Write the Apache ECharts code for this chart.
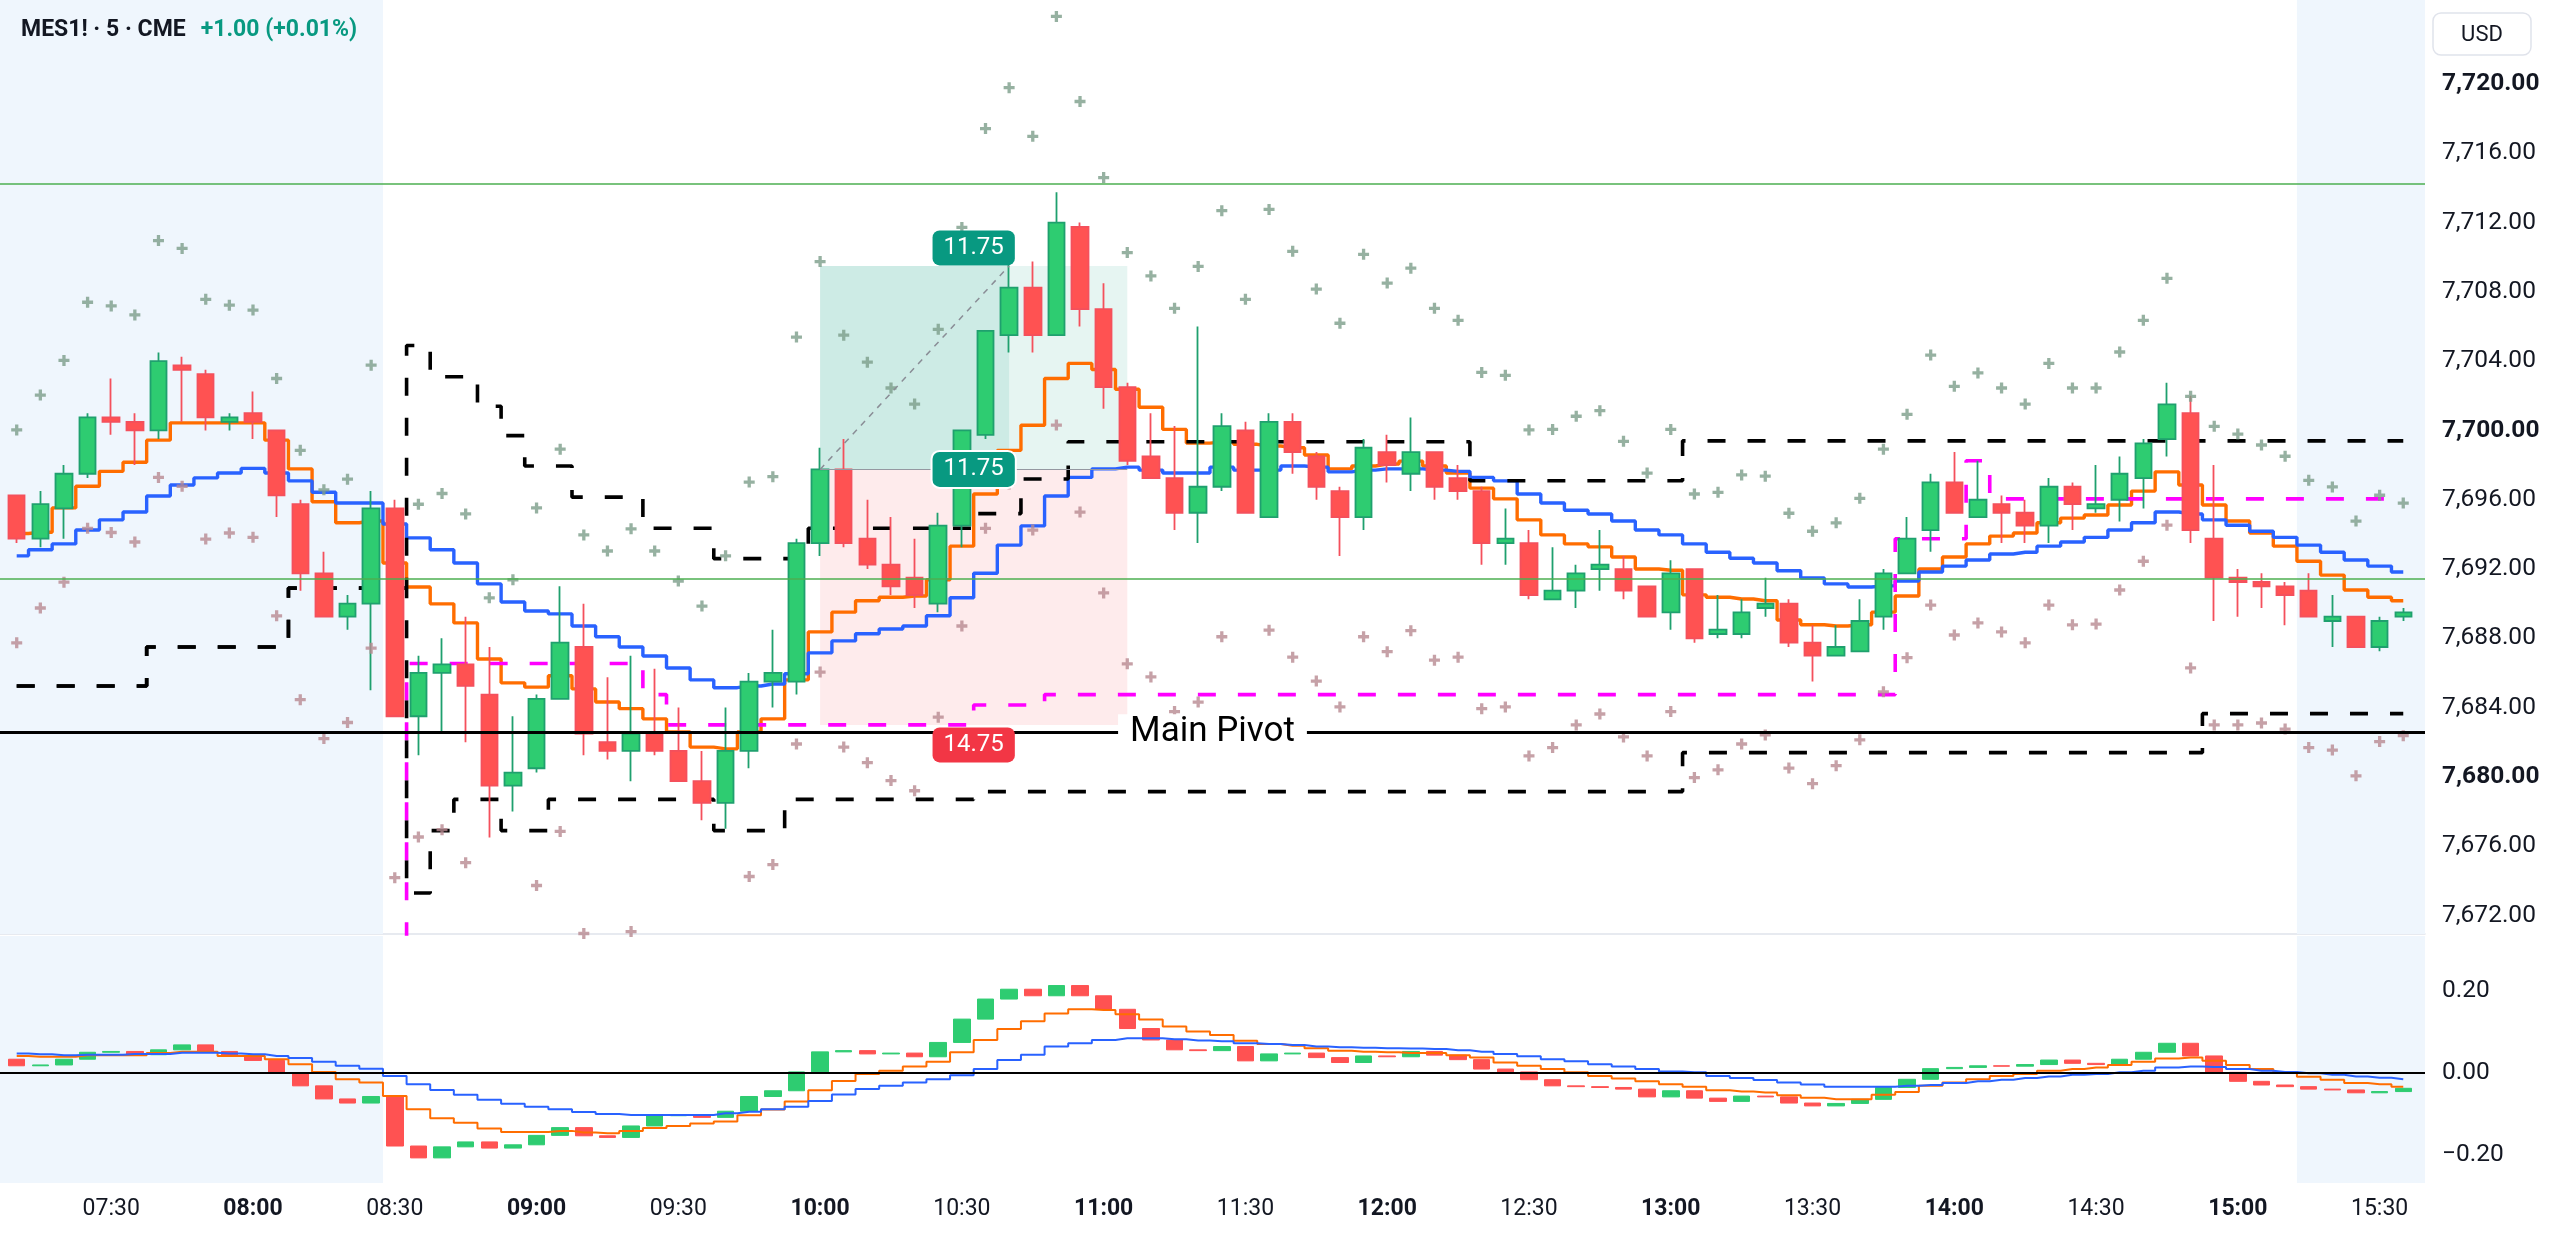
<!DOCTYPE html>
<html><head><meta charset="utf-8">
<script src="https://cdn.jsdelivr.net/npm/echarts@6/dist/echarts.min.js"></script>
<style>html,body{margin:0;padding:0;background:#fff;}#c{width:2560px;height:1253px;}</style>
</head><body><div id="c"></div>
<script>
// ---------- DATA ----------
const opens  = [7696.25,7693.75,7695.5,7697.5,7700.75,7700.5,7700.0,7703.75,7703.25,7700.5,7701.0,7700.0,7695.75,7691.75,7689.25,7690.0,7695.5,7683.5,7686.0,7686.5,7684.75,7679.5,7680.5,7684.5,7687.5,7682.0,7681.5,7682.5,7681.5,7679.75,7678.5,7681.5,7685.5,7685.5,7693.5,7697.75,7693.75,7692.25,7691.5,7690.0,7694.5,7699.75,7705.5,7708.25,7705.5,7711.75,7707.0,7702.5,7698.5,7697.25,7695.25,7696.75,7700.0,7695.0,7700.5,7698.5,7696.5,7695.0,7698.75,7697.5,7698.75,7697.25,7696.5,7693.5,7693.5,7690.25,7690.75,7692.0,7692.0,7691.0,7689.5,7692.0,7688.25,7688.25,7689.75,7690.0,7687.75,7687.0,7687.25,7689.25,7691.75,7694.25,7697.0,7695.0,7695.75,7695.25,7694.5,7696.75,7695.5,7696.0,7697.25,7699.5,7701.0,7693.75,7691.5,7691.25,7691.0,7690.75,7689.0,7689.25,7687.5,7689.25];
const closes = [7693.75,7695.75,7697.5,7700.75,7700.5,7700.0,7704.0,7703.5,7700.75,7700.75,7700.5,7696.25,7691.75,7689.25,7690.0,7695.5,7683.5,7686.0,7686.5,7685.25,7679.5,7680.25,7684.5,7687.75,7682.5,7681.5,7682.5,7681.5,7679.75,7678.5,7681.5,7685.5,7686.0,7693.5,7697.75,7693.5,7692.25,7691.0,7690.5,7694.5,7700.0,7705.75,7708.25,7705.5,7712.0,7707.0,7702.5,7698.25,7697.25,7695.25,7696.75,7700.25,7695.25,7700.5,7698.75,7696.75,7695.0,7699.0,7698.0,7698.75,7696.75,7696.5,7693.5,7693.75,7690.5,7690.75,7691.75,7692.25,7690.75,7689.25,7691.75,7688.0,7688.5,7689.5,7690.0,7687.75,7687.0,7687.5,7689.0,7691.75,7693.75,7697.0,7695.25,7696.0,7695.25,7694.5,7696.75,7695.75,7695.75,7697.5,7699.25,7701.5,7694.25,7691.5,7691.25,7691.0,7690.5,7689.25,7689.25,7687.5,7689.0,7689.5];
const lows   = [7693.5,7693.25,7693.75,7697.25,7699.75,7698.0,7699.5,7700.5,7700.0,7700.0,7699.5,7695.0,7690.75,7689.25,7688.5,7685.0,7683.5,7681.25,7682.5,7682.0,7676.5,7678.0,7680.25,7684.5,7681.25,7681.0,7679.75,7681.25,7679.75,7677.5,7677.0,7680.5,7684.0,7684.75,7692.75,7693.25,7692.0,7690.5,7689.75,7689.5,7693.25,7699.5,7704.5,7704.5,7705.5,7706.0,7701.25,7698.0,7697.25,7694.25,7693.5,7696.5,7695.25,7695.0,7697.5,7696.0,7692.75,7694.25,7697.0,7696.5,7696.0,7696.0,7692.25,7692.25,7690.25,7690.25,7689.75,7690.75,7690.25,7689.25,7688.5,7687.75,7688.0,7688.0,7689.25,7687.5,7685.5,7687.0,7687.25,7688.5,7691.75,7693.0,7695.25,7695.0,7693.5,7693.5,7693.5,7694.25,7695.25,7694.75,7695.5,7698.5,7693.5,7689.0,7689.25,7689.75,7688.75,7689.25,7687.5,7687.5,7687.25,7689.0];
const highs  = [7696.25,7696.5,7698.0,7701.0,7703.0,7701.0,7704.5,7704.25,7703.5,7701.0,7702.25,7700.0,7696.0,7693.0,7690.5,7696.5,7696.0,7687.0,7688.0,7689.25,7687.5,7683.5,7684.75,7691.0,7690.0,7685.75,7687.0,7686.25,7684.0,7681.5,7684.0,7686.0,7688.5,7693.75,7699.0,7699.5,7696.0,7695.0,7693.75,7695.25,7700.0,7705.75,7709.75,7709.75,7713.75,7712.0,7708.5,7702.75,7701.0,7700.25,7706.0,7701.0,7700.5,7701.0,7701.0,7698.75,7696.75,7699.5,7699.75,7700.75,7698.75,7698.0,7696.75,7695.5,7694.25,7693.25,7692.25,7694.25,7692.75,7691.0,7692.5,7692.0,7690.5,7690.25,7691.5,7690.25,7688.75,7688.75,7690.25,7692.0,7695.0,7697.5,7698.75,7698.25,7696.25,7696.0,7697.25,7697.0,7698.0,7698.5,7699.5,7702.75,7702.0,7698.0,7692.0,7691.75,7691.25,7691.75,7690.5,7689.25,7689.25,7689.75];

const orangeMain = [7694.05,7694.12,7695.53,7696.78,7697.64,7698.16,7699.44,7700.44,7700.44,7700.44,7700.44,7699.44,7697.78,7695.88,7694.67,7694.77,7692.35,7690.96,7689.99,7688.89,7686.81,7685.43,7685.18,7685.84,7685.08,7684.32,7683.94,7683.35,7682.59,7681.72,7681.62,7682.59,7683.35,7685.6,7688.37,7689.51,7690.17,7690.37,7690.44,7691.38,7693.32,7696.33,7698.85,7700.3,7703.0,7703.87,7703.52,7702.38,7701.34,7700.06,7699.27,7699.34,7699.2,7699.1,7699.0,7698.58,7697.78,7697.95,7698.06,7698.23,7697.95,7697.54,7696.67,7696.05,7694.84,7693.97,7693.45,7693.28,7692.69,7692.0,7691.93,7690.51,7690.37,7690.27,7690.17,7689.06,7688.78,7688.71,7688.78,7689.51,7690.44,7692.0,7692.69,7693.45,7693.9,7694.08,7694.67,7694.94,7695.12,7695.7,7696.5,7697.61,7696.85,7695.7,7694.77,7694.08,7693.32,7692.45,7691.65,7690.79,7690.37,7690.17];
const blueMain = [7692.76,7693.11,7693.45,7694.25,7694.84,7695.29,7696.22,7696.85,7697.26,7697.54,7697.81,7697.54,7697.09,7696.43,7695.81,7695.81,7694.6,7693.8,7693.11,7692.35,7691.14,7690.1,7689.58,7689.41,7688.71,7688.09,7687.5,7686.98,7686.29,7685.6,7685.15,7685.25,7685.36,7685.95,7687.16,7687.85,7688.26,7688.54,7688.71,7689.3,7690.34,7691.76,7693.38,7694.49,7696.22,7697.29,7697.78,7697.88,7697.71,7697.54,7697.54,7697.88,7697.71,7697.71,7697.95,7697.88,7697.61,7697.71,7697.78,7697.78,7697.71,7697.64,7697.29,7697.09,7696.33,7695.81,7695.39,7695.18,7694.77,7694.25,7693.97,7693.45,7692.97,7692.62,7692.35,7691.9,7691.48,7691.14,7690.96,7691.03,7691.31,7691.83,7692.17,7692.52,7692.87,7692.97,7693.32,7693.56,7693.83,7694.25,7694.67,7695.29,7695.18,7694.84,7694.53,7694.18,7693.83,7693.38,7692.97,7692.52,7692.17,7691.83];

const upperBand = [7685.25,7685.25,7685.25,7685.25,7685.25,7685.25,7687.5,7687.5,7687.5,7687.5,7687.5,7687.5,7690.9,7690.9,7690.9,7690.9,7690.9,7704.9,7703.1,7703.1,7701.4,7699.7,7697.95,7697.95,7696.15,7696.15,7696.15,7694.35,7694.35,7694.35,7692.6,7692.6,7692.6,7692.6,7694.35,7694.35,7694.35,7694.35,7694.35,7694.35,7694.35,7695.2,7695.2,7697.2,7697.2,7699.35,7699.35,7699.35,7699.35,7699.35,7699.35,7699.35,7699.35,7699.35,7699.35,7699.35,7699.35,7699.35,7699.35,7699.35,7699.35,7699.35,7697.1,7697.1,7697.1,7697.1,7697.1,7697.1,7697.1,7697.1,7697.1,7699.4,7699.4,7699.4,7699.4,7699.4,7699.4,7699.4,7699.4,7699.4,7699.4,7699.4,7699.4,7699.4,7699.4,7699.4,7699.4,7699.4,7699.4,7699.4,7699.4,7699.4,7699.4,7699.4,7699.4,7699.4,7699.4,7699.4,7699.4,7699.4,7699.4,7699.4];
const lowerBand = [7685.25,7685.25,7685.25,7685.25,7685.25,7685.25,7687.5,7687.5,7687.5,7687.5,7687.5,7687.5,7690.9,7690.9,7690.9,7690.9,7690.9,7673.3,7676.9,7678.7,7678.7,7676.9,7676.9,7678.7,7678.7,7678.7,7678.7,7678.7,7678.7,7678.7,7676.9,7676.9,7676.9,7678.7,7678.7,7678.7,7678.7,7678.7,7678.7,7678.7,7678.7,7679.15,7679.15,7679.15,7679.15,7679.15,7679.15,7679.15,7679.15,7679.15,7679.15,7679.15,7679.15,7679.15,7679.15,7679.15,7679.15,7679.15,7679.15,7679.15,7679.15,7679.15,7679.15,7679.15,7679.15,7679.15,7679.15,7679.15,7679.15,7679.15,7679.15,7681.4,7681.4,7681.4,7681.4,7681.4,7681.4,7681.4,7681.4,7681.4,7681.4,7681.4,7681.4,7681.4,7681.4,7681.4,7681.4,7681.4,7681.4,7681.4,7681.4,7681.4,7681.4,7683.65,7683.65,7683.65,7683.65,7683.65,7683.65,7683.65,7683.65,7683.65];
const magentaLine = [null,null,null,null,null,null,null,null,null,null,null,null,null,null,null,null,7665,7686.55,7686.55,7686.55,7686.55,7686.55,7686.55,7686.55,7686.55,7686.55,7686.55,7684.75,7683.0,7683.0,7683.0,7683.0,7683.0,7683.0,7683.0,7683.0,7683.0,7683.0,7683.0,7683.0,7683.0,7684.15,7684.15,7684.15,7684.75,7684.75,7684.75,7684.75,7684.75,7684.75,7684.75,7684.75,7684.75,7684.75,7684.75,7684.75,7684.75,7684.75,7684.75,7684.75,7684.75,7684.75,7684.75,7684.75,7684.75,7684.75,7684.75,7684.75,7684.75,7684.75,7684.75,7684.75,7684.75,7684.75,7684.75,7684.75,7684.75,7684.75,7684.75,7684.75,7693.75,7693.75,7693.75,7698.25,7696.05,7696.05,7696.05,7696.05,7696.05,7696.05,7696.05,7696.05,7696.05,7696.05,7696.05,7696.05,7696.05,7696.05,7696.05,7696.05,7696.05,7696.05];

const crossUp = [7700.03,7702.04,7704.04,7707.4,7707.19,7706.67,7710.96,7710.51,7707.57,7707.23,7706.95,7703.0,7698.85,7696.57,7697.19,7703.77,null,7695.74,7696.36,7695.18,7690.34,7691.38,7695.53,7698.92,7693.97,7693.04,7694.32,7693.04,7691.31,7689.86,7692.76,7697.02,7697.33,7705.39,7709.75,7705.5,7703.94,7702.45,7701.52,7705.84,7711.72,7717.43,7719.79,7716.98,7723.9,7718.99,7714.6,7710.27,7708.92,7707.05,7709.47,7712.69,7707.57,7712.76,7710.34,7708.16,7706.19,7710.17,7708.51,7709.37,7707.05,7706.36,7703.35,7703.18,7700.03,7700.06,7700.82,7701.14,7699.37,7697.54,7700.06,7696.33,7696.43,7697.43,7697.36,7695.22,7694.18,7694.67,7696.08,7698.92,7700.93,7704.35,7702.55,7703.32,7702.45,7701.52,7703.87,7702.45,7702.45,7704.53,7706.36,7708.78,7701.97,7700.24,7699.79,7699.16,7698.51,7697.12,7696.74,7694.77,7696.26,7695.81];
const crossDown = [7687.74,7689.75,7691.24,7694.35,7694.11,7693.56,7697.29,7696.78,7693.73,7694.08,7693.83,7689.3,7684.46,7682.21,7683.14,7687.43,7674.18,7676.53,7676.95,7675.05,null,null,7673.73,7676.85,7670.96,null,7671.07,null,null,null,null,7674.25,7674.94,7681.9,7686.05,7681.72,7680.82,7679.79,7679.2,7683.45,7688.71,7694.35,7696.91,7694.25,7700.31,7695.29,7690.62,7686.53,7685.77,7683.77,7684.32,7688.09,7683.25,7688.47,7686.91,7685.53,7684.04,7688.09,7687.23,7688.44,7686.74,7686.91,7683.94,7684.04,7681.21,7681.69,7683.0,7683.63,7682.31,7681.21,7683.77,7679.96,7680.41,7681.9,7682.42,7680.51,7679.61,7680.65,7682.14,7684.91,7686.88,7689.92,7688.19,7688.89,7688.37,7687.74,7689.92,7688.78,7688.82,7690.79,7692.45,7694.53,7686.29,7683.0,7683.0,7683.11,7682.76,7681.69,7681.55,7680.06,7682.04,7682.38];

const oscStart = 0.034;
const oscValues = [0.018,0.020,0.034,0.051,0.053,0.045,0.057,0.069,0.053,0.042,0.031,0.000,-0.031,-0.063,-0.073,-0.057,-0.178,-0.207,-0.180,-0.168,-0.183,-0.175,-0.152,-0.133,-0.153,-0.157,-0.129,-0.104,-0.102,-0.108,-0.093,-0.057,-0.043,0.003,0.052,0.055,0.047,0.049,0.040,0.075,0.132,0.181,0.205,0.189,0.214,0.189,0.156,0.109,0.081,0.057,0.055,0.065,0.030,0.047,0.049,0.038,0.026,0.042,0.040,0.053,0.044,0.033,0.010,0.003,-0.016,-0.031,-0.033,-0.035,-0.039,-0.058,-0.043,-0.061,-0.069,-0.056,-0.058,-0.073,-0.080,-0.074,-0.064,-0.035,-0.015,0.011,0.014,0.018,0.017,0.021,0.032,0.024,0.021,0.034,0.051,0.073,0.042,0.002,-0.020,-0.029,-0.033,-0.039,-0.041,-0.048,-0.045,-0.037];
const oscOrange = [0.042,0.040,0.040,0.044,0.044,0.044,0.049,0.052,0.052,0.042,0.042,0.034,0.022,0.003,-0.015,-0.023,-0.056,-0.088,-0.110,-0.121,-0.135,-0.144,-0.144,-0.141,-0.145,-0.147,-0.141,-0.134,-0.129,-0.123,-0.118,-0.103,-0.089,-0.069,-0.042,-0.019,-0.002,0.006,0.016,0.028,0.051,0.081,0.108,0.127,0.146,0.156,0.154,0.144,0.131,0.114,0.102,0.093,0.079,0.071,0.067,0.061,0.055,0.052,0.051,0.049,0.049,0.044,0.038,0.026,0.018,0.010,0.002,-0.007,-0.013,-0.020,-0.027,-0.033,-0.042,-0.045,-0.047,-0.054,-0.060,-0.064,-0.064,-0.053,-0.046,-0.031,-0.023,-0.015,-0.007,-0.002,0.006,0.010,0.014,0.020,0.028,0.036,0.038,0.030,0.020,0.010,0.003,-0.009,-0.016,-0.024,-0.027,-0.033];
const oscBlue = [0.048,0.046,0.044,0.045,0.045,0.047,0.047,0.050,0.050,0.048,0.046,0.042,0.037,0.028,0.018,0.011,-0.007,-0.027,-0.041,-0.053,-0.065,-0.075,-0.082,-0.088,-0.095,-0.100,-0.102,-0.102,-0.102,-0.102,-0.098,-0.094,-0.088,-0.082,-0.068,-0.052,-0.039,-0.031,-0.023,-0.015,-0.005,0.010,0.032,0.045,0.065,0.073,0.081,0.085,0.085,0.083,0.080,0.078,0.073,0.071,0.069,0.065,0.063,0.062,0.061,0.060,0.059,0.056,0.052,0.047,0.041,0.034,0.029,0.022,0.016,0.010,0.004,0.002,-0.007,-0.012,-0.017,-0.023,-0.028,-0.033,-0.033,-0.033,-0.031,-0.029,-0.024,-0.020,-0.016,-0.012,-0.008,-0.004,-0.002,0.002,0.006,0.014,0.016,0.015,0.010,0.006,0.003,0.000,-0.004,-0.008,-0.011,-0.015];

const xTickBars   = [4,10,16,22,28,34,40,46,52,58,64,70,76,82,88,94,100];
const xTickLabels = ['07:30','08:00','08:30','09:00','09:30','10:00','10:30','11:00','11:30','12:00','12:30','13:00','13:30','14:00','14:30','15:00','15:30'];
const priceTicks  = [7672,7676,7680,7684,7688,7692,7696,7700,7704,7708,7712,7716,7720];
const oscTicks    = [-0.2,0,0.2];

const upperGreenLevel = 7714.25;
const lowerGreenLevel = 7691.45;
const mainPivotLevel  = 7682.6;
const lastPrice = 7689.5;
const sessionOpenEdge = 15.5;   // 08:30 session start (between bars)
const sessionCloseEdge = 96.5;  // 15:15 session end

const posEntryBar = 34, posExitBar = 42, posEndBar = 47;
const posEntry = 7697.75, posTarget = 7709.5, posStop = 7683.0;

// ---------- AXIS RANGES ----------
const xMin = -0.707, xMax = 101.92;
const yMin = 7670.93, yMax = 7724.85;
const oMin = -0.2683, oMax = 0.335;

const FONT = 'Roboto, "Noto Sans", sans-serif';
const TXT = '#131722';
const UP = '#2ECC71', UP_B = '#1FA06E', DN = '#FF5252', DN_B = '#F4505C';
const PLUS = 'path://M3.5,0h3v3.5h3.5v3h-3.5v3.5h-3v-3.5h-3.5v-3h3.5z';

const idx = a => a.map((v, i) => [i, v]);
const candleData = opens.map((o, i) => [i, o, closes[i], lows[i], highs[i]]);
const oscData = oscValues.map((v, i) => {
  const p = i === 0 ? oscStart : oscValues[i - 1];
  return [i, p, v, Math.min(p, v), Math.max(p, v)];
});
const fmtPrice = v => v.toLocaleString('en-US', {minimumFractionDigits: 2, maximumFractionDigits: 2});
const posMid = (posEntryBar + posEndBar) / 2;
const xMid = (xMin + xMax) / 2;

const chart = echarts.init(document.getElementById('c'), null, {renderer: 'canvas'});

const stepLine = (data, color, width, dash, xi, yi, z) => ({
  type: 'line', data: idx(data), step: 'middle', showSymbol: false, symbol: 'none',
  xAxisIndex: xi, yAxisIndex: yi, z: z, silent: true, connectNulls: false,
  lineStyle: {color: color, width: width, type: dash || 'solid'}
});

chart.setOption({
  animation: false,
  backgroundColor: '#ffffff',
  title: {
    left: 16, top: 14,
    text: '{a|MES1! · 5 · CME}   {b|+1.00 (+0.01%)}',
    textStyle: {rich: {
      a: {fontSize: 23, color: TXT, fontFamily: FONT},
      b: {fontSize: 23, color: '#089981', fontFamily: FONT}
    }}
  },
  graphic: [{
    type: 'group', children: [
      {type: 'rect', shape: {x: 2433, y: 13, width: 98, height: 42, r: 8},
       style: {fill: '#fff', stroke: '#E0E3EB', lineWidth: 1.5}},
      {type: 'text', style: {x: 2482, y: 35, text: 'USD', align: 'center', verticalAlign: 'middle',
       fontSize: 22, fill: TXT, fontFamily: FONT}}
    ]
  }],
  grid: [
    {left: 0, top: 0, width: 2425, height: 934},
    {left: 0, top: 936, width: 2425, height: 247}
  ],
  xAxis: [
    {type: 'value', gridIndex: 0, min: xMin, max: xMax,
     axisLine: {show: true, lineStyle: {color: '#E0E3EB', width: 1.5}},
     axisTick: {show: false}, axisLabel: {show: false}, splitLine: {show: false}},
    {type: 'value', gridIndex: 1, min: xMin, max: xMax,
     axisLine: {show: false}, axisTick: {show: false}, splitLine: {show: false},
     axisLabel: {show: true, customValues: xTickBars, margin: 15, fontSize: 23, color: TXT, fontFamily: FONT,
       formatter: v => {
         const k = xTickBars.indexOf(Math.round(v));
         if (k < 0) return '';
         const t = xTickLabels[k];
         return t.endsWith(':00') ? '{b|' + t + '}' : '{n|' + t + '}';
       },
       rich: {b: {fontWeight: 'bold', fontSize: 23, color: TXT, fontFamily: FONT},
              n: {fontSize: 23, color: TXT, fontFamily: FONT}}}}
  ],
  yAxis: [
    {type: 'value', gridIndex: 0, position: 'right', min: yMin, max: yMax,
     axisLine: {show: false}, axisTick: {show: false}, splitLine: {show: false},
     axisLabel: {show: true, customValues: priceTicks, margin: 17, align: 'left', fontSize: 24.5, color: TXT, fontFamily: FONT,
       formatter: v => (Math.round(v) % 20 === 0 ? '{b|' : '{n|') + fmtPrice(v) + '}',
       rich: {b: {fontWeight: 'bold', fontSize: 24.5, color: TXT, fontFamily: FONT},
              n: {fontSize: 24.5, color: TXT, fontFamily: FONT}}}},
    {type: 'value', gridIndex: 1, position: 'right', min: oMin, max: oMax,
     axisLine: {show: false}, axisTick: {show: false}, splitLine: {show: false},
     axisLabel: {show: true, customValues: oscTicks, margin: 17, align: 'left', fontSize: 24.5, color: TXT, fontFamily: FONT,
       formatter: v => (v < -1e-9 ? '\u2212' : '') + Math.abs(v).toFixed(2)}}
  ],
  series: [
    // session shading (main pane)
    {type: 'scatter', xAxisIndex: 0, yAxisIndex: 0, z: 0, silent: true, symbolSize: 0, data: [[0, 7700]],
     markArea: {silent: true, itemStyle: {color: '#EFF6FD'}, label: {show: false},
       data: [[{xAxis: xMin}, {xAxis: sessionOpenEdge}], [{xAxis: sessionCloseEdge}, {xAxis: xMax}]]}},
    // session shading (oscillator pane)
    {type: 'scatter', xAxisIndex: 1, yAxisIndex: 1, z: 0, silent: true, symbolSize: 0, data: [[0, 0]],
     markArea: {silent: true, itemStyle: {color: '#EFF6FD'}, label: {show: false},
       data: [[{xAxis: xMin}, {xAxis: sessionOpenEdge}], [{xAxis: sessionCloseEdge}, {xAxis: xMax}]]}},
    // horizontal levels (behind everything else)
    {type: 'scatter', xAxisIndex: 0, yAxisIndex: 0, z: 1, silent: true, symbolSize: 0, data: [[0, mainPivotLevel]],
     markLine: {silent: true, symbol: ['none', 'none'], animation: false,
       data: [
         {yAxis: upperGreenLevel, lineStyle: {color: '#4CAF50', width: 1.5, type: 'solid'}, label: {show: false}},
         {yAxis: lowerGreenLevel, lineStyle: {color: '#4CAF50', width: 1.5, type: 'solid'}, label: {show: false}},
         {yAxis: mainPivotLevel, lineStyle: {color: '#000000', width: 3, type: 'solid'}, label: {show: false}},
         {yAxis: lastPrice, lineStyle: {opacity: 0}, label: {show: true, position: 'end', distance: 5,
           formatter: fmtPrice(lastPrice), color: '#3DBE78', fontSize: 24.5, fontFamily: FONT,
           backgroundColor: '#ffffff', borderColor: '#3DBE78', borderWidth: 1.5, borderRadius: 3, padding: [2, 6, 1, 6]}}
       ]},
     markPoint: {silent: true, symbol: 'rect', symbolSize: 1, itemStyle: {color: 'rgba(0,0,0,0)'},
       data: [{coord: [xMid, mainPivotLevel],
         label: {show: true, position: 'inside', formatter: 'Main Pivot', fontSize: 35, color: '#000', fontFamily: FONT,
           backgroundColor: '#ffffff', padding: [0, 12]}}]}},
    // main pane indicator step lines
    stepLine(orangeMain, '#FF6D00', 3.4, null, 0, 0, 2),
    stepLine(blueMain, '#2962FF', 3.4, null, 0, 0, 2),
    stepLine(upperBand, '#000000', 3.6, [18, 22], 0, 0, 2),
    stepLine(lowerBand, '#000000', 3.6, [18, 22], 0, 0, 2),
    stepLine(magentaLine, '#FF00FF', 3.6, [18, 22], 0, 0, 2),
    // candles (drawn above indicator lines)
    {type: 'candlestick', xAxisIndex: 0, yAxisIndex: 0, z: 3, silent: true,
     data: candleData, encode: {x: 0, y: [1, 2, 3, 4]}, barWidth: 17,
     itemStyle: {color: UP, color0: DN, borderColor: UP_B, borderColor0: DN_B, borderWidth: 1.8}},
    // crosses
    {type: 'scatter', xAxisIndex: 0, yAxisIndex: 0, z: 4, silent: true, symbol: PLUS, symbolSize: 11,
     itemStyle: {color: '#7C9E89'}, data: idx(crossUp)},
    {type: 'scatter', xAxisIndex: 0, yAxisIndex: 0, z: 4, silent: true, symbol: PLUS, symbolSize: 11,
     itemStyle: {color: '#B88A91'}, data: idx(crossDown)},
    // long position tool
    {type: 'scatter', xAxisIndex: 0, yAxisIndex: 0, z: 5, silent: true, symbolSize: 0, data: [[posEntryBar, posEntry]],
     markArea: {silent: true, label: {show: false},
       data: [
         [{coord: [posEntryBar, posEntry], itemStyle: {color: 'rgba(8,153,129,0.10)'}}, {coord: [posEndBar, posTarget]}],
         [{coord: [posEntryBar, posEntry], itemStyle: {color: 'rgba(8,153,129,0.11)'}}, {coord: [posExitBar, posTarget]}],
         [{coord: [posEntryBar, posStop], itemStyle: {color: 'rgba(242,54,69,0.10)'}}, {coord: [posEndBar, posEntry]}]
       ]},
     markLine: {silent: true, symbol: ['none', 'none'], label: {show: false},
       data: [
         [{coord: [posEntryBar, posEntry], lineStyle: {color: '#9598A1', width: 1.2, type: 'solid'}}, {coord: [posEndBar, posEntry]}],
         [{coord: [posEntryBar, posEntry], lineStyle: {color: '#8A8D96', width: 1.5, type: [6, 6]}}, {coord: [posExitBar, posTarget]}]
       ]},
     markPoint: {silent: true, symbol: 'rect', symbolSize: 1, itemStyle: {color: 'rgba(0,0,0,0)'},
       data: [
         {coord: [posMid, posTarget], label: {show: true, position: 'top', distance: 0,
           formatter: (posTarget - posEntry).toFixed(2), color: '#fff', fontSize: 24, fontFamily: FONT,
           backgroundColor: '#089981', borderRadius: 7, padding: [6, 11, 5, 11]}},
         {coord: [posMid, posEntry], label: {show: true, position: 'inside',
           formatter: (posTarget - posEntry).toFixed(2), color: '#fff', fontSize: 24, fontFamily: FONT,
           backgroundColor: '#089981', borderColor: '#ffffff', borderWidth: 2, borderRadius: 7, padding: [6, 11, 5, 11]}},
         {coord: [posMid, posStop], label: {show: true, position: 'bottom', distance: 2,
           formatter: (posEntry - posStop).toFixed(2), color: '#fff', fontSize: 24, fontFamily: FONT,
           backgroundColor: '#F23645', borderRadius: 7, padding: [6, 11, 5, 11]}}
       ]}},
    // oscillator pane
    {type: 'candlestick', xAxisIndex: 1, yAxisIndex: 1, z: 2, silent: true,
     data: oscData, encode: {x: 0, y: [1, 2, 3, 4]}, barWidth: 17,
     itemStyle: {color: UP, color0: DN, borderColor: UP, borderColor0: DN, borderWidth: 1},
     markLine: {silent: true, symbol: ['none', 'none'], label: {show: false},
       data: [{yAxis: 0, lineStyle: {color: '#000000', width: 2, type: 'solid'}}]}},
    stepLine(oscOrange, '#FF6D00', 2, null, 1, 1, 3),
    stepLine(oscBlue, '#2962FF', 2, null, 1, 1, 3)
  ]
});
</script></body></html>
